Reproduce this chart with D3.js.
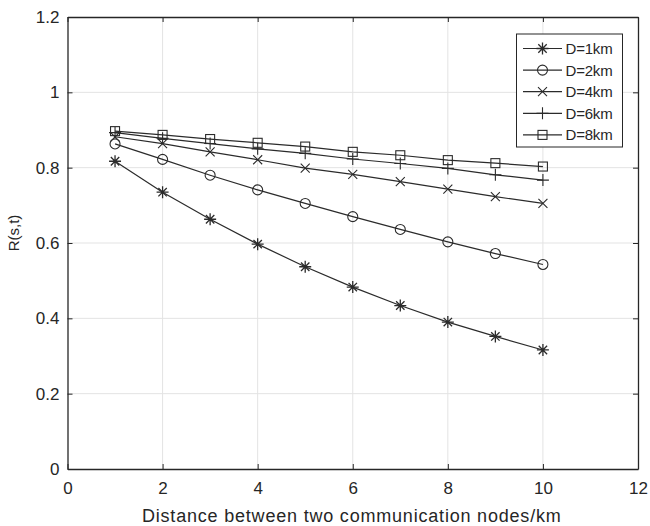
<!DOCTYPE html>
<html>
<head>
<meta charset="utf-8">
<script src="https://cdn.jsdelivr.net/npm/d3@7"></script>
<style>
  body { margin: 0; background: #fff; }
  text { font-family: "Liberation Sans", Arial, sans-serif; fill: #262626; }
</style>
</head>
<body>
<svg id="chart"></svg>
<script>
// distances between nodes (km)
const xValues = [1, 2, 3, 4, 5, 6, 7, 8, 9, 10];
const seriesNames = ["D=1km", "D=2km", "D=4km", "D=6km", "D=8km"];
const seriesMarkers = ["star", "circle", "cross", "plus", "square"];

const d1 = [0.817, 0.735, 0.663, 0.597, 0.537, 0.483, 0.434, 0.390, 0.352, 0.316];
const d2 = [0.863, 0.822, 0.780, 0.741, 0.705, 0.670, 0.636, 0.603, 0.572, 0.543];
const d4 = [0.882, 0.864, 0.842, 0.821, 0.799, 0.782, 0.763, 0.743, 0.723, 0.705];
const d6 = [0.893, 0.878, 0.864, 0.850, 0.838, 0.823, 0.811, 0.798, 0.781, 0.767];
const d8 = [0.897, 0.887, 0.876, 0.866, 0.856, 0.842, 0.833, 0.820, 0.812, 0.803];

const xTicks = [0, 2, 4, 6, 8, 10, 12];
const yTicks = [0, 0.2, 0.4, 0.6, 0.8, 1, 1.2];

const allSeries = [d1, d2, d4, d6, d8];

const width = 650, height = 526;
const margin = { top: 17, right: 12, bottom: 57, left: 67.5 };

const svg = d3.select("#chart")
  .attr("width", width)
  .attr("height", height);

const xScale = d3.scaleLinear()
  .domain([0, 12])
  .range([margin.left, width - margin.right]);

const yScale = d3.scaleLinear()
  .domain([0, 1.2])
  .range([height - margin.bottom, margin.top]);

const axisColor = "#262626";
const lineColor = "#2b2b2b";

// grid
svg.append("g")
  .selectAll("line.vg")
  .data(xTicks.slice(1, -1))
  .enter().append("line")
    .attr("x1", d => xScale(d)).attr("x2", d => xScale(d))
    .attr("y1", yScale(0)).attr("y2", yScale(1.2))
    .attr("stroke", "#e3e3e3").attr("stroke-width", 1);

svg.append("g")
  .selectAll("line.hg")
  .data(yTicks.slice(1, -1))
  .enter().append("line")
    .attr("x1", xScale(0)).attr("x2", xScale(12))
    .attr("y1", d => yScale(d)).attr("y2", d => yScale(d))
    .attr("stroke", "#e3e3e3").attr("stroke-width", 1);

// axes (MATLAB style, inward ticks, box)
const fmt = d => d3.format("")(+d.toFixed(1));

const xAxis = svg.append("g")
  .attr("transform", `translate(0, ${yScale(0)})`)
  .call(d3.axisBottom(xScale).tickValues(xTicks).tickFormat(fmt).tickSizeInner(-5).tickSizeOuter(0).tickPadding(13));

const xAxisTop = svg.append("g")
  .attr("transform", `translate(0, ${yScale(1.2)})`)
  .call(d3.axisTop(xScale).tickValues(xTicks).tickFormat("").tickSizeInner(-5).tickSizeOuter(0));

const yAxis = svg.append("g")
  .attr("transform", `translate(${xScale(0)}, 0)`)
  .call(d3.axisLeft(yScale).tickValues(yTicks).tickFormat(fmt).tickSizeInner(-5).tickSizeOuter(0).tickPadding(8));

const yAxisRight = svg.append("g")
  .attr("transform", `translate(${xScale(12)}, 0)`)
  .call(d3.axisRight(yScale).tickValues(yTicks).tickFormat("").tickSizeInner(-5).tickSizeOuter(0));

[xAxis, xAxisTop, yAxis, yAxisRight].forEach(g => {
  g.select(".domain").attr("stroke", axisColor).attr("stroke-width", 1.3);
  g.selectAll(".tick line").attr("stroke", axisColor).attr("stroke-width", 1);
  g.selectAll(".tick text").attr("fill", "#3a3a3a").style("font-size", "17px")
    .style("font-family", "'Liberation Sans', Arial, sans-serif");
});

// axis labels
svg.append("text")
  .attr("x", xScale(6) - 1)
  .attr("y", 522)
  .attr("text-anchor", "middle")
  .style("font-size", "18px")
  .style("letter-spacing", "0.8px")
  .attr("fill", "#3a3a3a")
  .text("Distance between two communication nodes/km");

svg.append("text")
  .attr("transform", `translate(19, 233) rotate(-90)`)
  .attr("text-anchor", "middle")
  .style("font-size", "15px")
  .attr("fill", "#3a3a3a")
  .text("R(s,t)");

// markers
function drawMarker(g, type, cx, cy) {
  const s = 5;
  if (type === "circle") {
    g.append("circle").attr("cx", cx).attr("cy", cy).attr("r", s)
      .attr("fill", "none").attr("stroke", lineColor).attr("stroke-width", 1.1);
  } else if (type === "square") {
    g.append("rect").attr("x", cx - 4.5).attr("y", cy - 4.5).attr("width", 9).attr("height", 9)
      .attr("fill", "none").attr("stroke", lineColor).attr("stroke-width", 1.1);
  } else if (type === "plus") {
    g.append("path").attr("d", `M${cx - 6},${cy}H${cx + 6}M${cx},${cy - 6}V${cy + 6}`)
      .attr("stroke", lineColor).attr("stroke-width", 1.1);
  } else if (type === "cross") {
    g.append("path").attr("d", `M${cx - 4.5},${cy - 4.5}L${cx + 4.5},${cy + 4.5}M${cx - 4.5},${cy + 4.5}L${cx + 4.5},${cy - 4.5}`)
      .attr("stroke", lineColor).attr("stroke-width", 1.1);
  } else if (type === "star") {
    g.append("path").attr("d", `M${cx - 6},${cy}H${cx + 6}M${cx},${cy - 6}V${cy + 6}` +
        `M${cx - 4.2},${cy - 4.2}L${cx + 4.2},${cy + 4.2}M${cx - 4.2},${cy + 4.2}L${cx + 4.2},${cy - 4.2}`)
      .attr("stroke", lineColor).attr("stroke-width", 1.3);
  }
}

const line = d3.line()
  .x((d, i) => xScale(xValues[i]))
  .y(d => yScale(d));

allSeries.forEach((vals, k) => {
  const g = svg.append("g");
  g.append("path")
    .datum(vals)
    .attr("d", line)
    .attr("fill", "none")
    .attr("stroke", lineColor)
    .attr("stroke-width", 1.2);
  vals.forEach((v, i) => drawMarker(g, seriesMarkers[k], xScale(xValues[i]), yScale(v)));
});

// legend
const legend = svg.append("g");
legend.append("rect")
  .attr("x", 516.5).attr("y", 34)
  .attr("width", 106).attr("height", 113)
  .attr("fill", "#fff")
  .attr("stroke", axisColor).attr("stroke-width", 1);

seriesNames.forEach((name, k) => {
  const y = 48.5 + k * 21.6;
  legend.append("line")
    .attr("x1", 523).attr("x2", 562)
    .attr("y1", y).attr("y2", y)
    .attr("stroke", lineColor).attr("stroke-width", 1.2);
  drawMarker(legend, seriesMarkers[k], 542.5, y);
  legend.append("text")
    .attr("x", 565.5).attr("y", y)
    .attr("dy", "0.36em")
    .style("font-size", "15px")
    .style("letter-spacing", "-0.2px")
    .text(name);
});
</script>
</body>
</html>
